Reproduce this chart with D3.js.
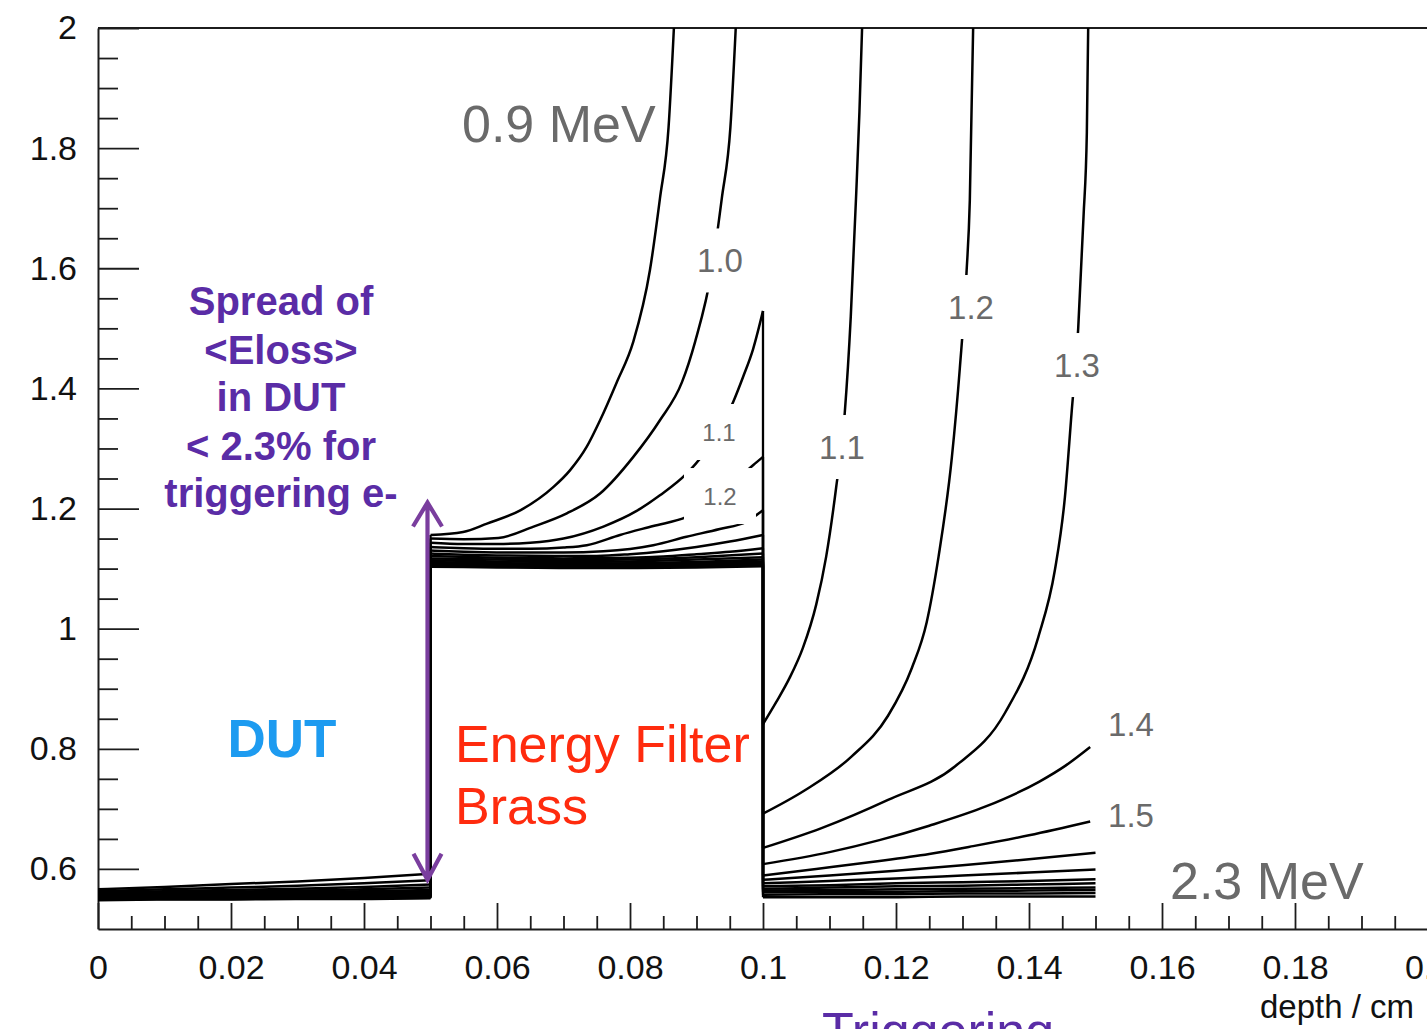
<!DOCTYPE html>
<html><head><meta charset="utf-8">
<script src="https://cdn.jsdelivr.net/npm/d3@7"></script>
<style>body{margin:0;background:#fff}svg{display:block}</style>
</head><body>
<svg id="chart" width="1427" height="1029"></svg>
<script>
// ---------------- data ----------------
const energies = ["0.9","1.0","1.1","1.2","1.3","1.4","1.5","1.6","1.7","1.8","1.9","2.0","2.1","2.2","2.3"];
const xTickValues = [0,0.02,0.04,0.06,0.08,0.1,0.12,0.14,0.16,0.18,0.2];
const xTickLabels = ["0","0.02","0.04","0.06","0.08","0.1","0.12","0.14","0.16","0.18","0.2"];
const yTickValues = [0.6,0.8,1.0,1.2,1.4,1.6,1.8,2.0];
const yTickLabels = ["0.6","0.8","1","1.2","1.4","1.6","1.8","2"];

// [depth (cm), value] points per beam energy (MeV)
const curve_0_9 = [[0,0.566],[0.01,0.570],[0.02,0.575],[0.03,0.579],[0.04,0.585],[0.05,0.592],
  [0.05,1.156],[0.0549,1.161],[0.0585,1.175],[0.0635,1.197],[0.0685,1.236],[0.071,1.264],[0.0735,1.303],[0.0755,1.347],[0.078,1.41],[0.0805,1.478],[0.083,1.597],[0.0845,1.716],[0.0858,1.835],[0.0866,2.0]];
const curve_1_0 = [[0,0.563],[0.01,0.566],[0.02,0.569],[0.03,0.572],[0.04,0.576],[0.05,0.581],
  [0.05,1.150],[0.055,1.149],[0.0602,1.151],[0.0655,1.170],[0.0705,1.192],[0.0755,1.225],[0.0805,1.286],[0.0845,1.347],[0.0878,1.41],[0.0898,1.478],[0.0923,1.597],[0.0938,1.716],[0.0951,1.835],[0.0959,2.0]];
const curve_1_1 = [[0,0.561],[0.01,0.563],[0.02,0.565],[0.03,0.567],[0.04,0.570],[0.05,0.574],
  [0.05,1.143],[0.055,1.141],[0.06,1.141],[0.065,1.143],[0.07,1.150],[0.076,1.170],[0.081,1.196],[0.0845,1.222],[0.0885,1.258],[0.091,1.29],[0.0955,1.377],[0.097,1.419],[0.0985,1.465],[0.1,1.529],
  [0.1,0.841],[0.102,0.878],[0.104,0.918],[0.106,0.968],[0.108,1.04],[0.1095,1.12],[0.111,1.235],[0.1123,1.36],[0.1132,1.52],[0.114,1.72],[0.1145,1.86],[0.1149,2.0]];
const curve_1_2 = [[0,0.559],[0.01,0.561],[0.02,0.562],[0.03,0.564],[0.04,0.566],[0.05,0.569],
  [0.05,1.136],[0.055,1.134],[0.06,1.133],[0.065,1.133],[0.07,1.135],[0.0735,1.139],[0.0785,1.156],[0.0835,1.171],[0.0885,1.186],[0.0935,1.222],[0.0985,1.272],[0.1,1.286],
  [0.1,0.692],[0.1063,0.731],[0.1133,0.787],[0.1188,0.855],[0.1224,0.935],[0.1246,1.010],[0.1264,1.120],[0.1284,1.285],[0.1296,1.434],[0.1306,1.592],[0.1311,1.713],[0.1316,2.0]];
const curve_1_3 = [[0,0.558],[0.01,0.559],[0.02,0.560],[0.03,0.562],[0.04,0.563],[0.05,0.565],
  [0.05,1.130],[0.055,1.128],[0.06,1.127],[0.07,1.127],[0.076,1.129],[0.0835,1.139],[0.0885,1.153],[0.0935,1.166],[0.0975,1.178],[0.099,1.189],[0.1,1.197],
  [0.1,0.635],[0.1088,0.668],[0.1188,0.715],[0.1289,0.771],[0.1364,0.860],[0.1414,0.986],[0.1439,1.098],[0.1454,1.219],[0.1464,1.359],[0.1474,1.50],[0.1482,1.686],[0.1487,1.827],[0.1489,2.0]];
const curve_1_4 = [[0,0.557],[0.01,0.558],[0.02,0.559],[0.03,0.560],[0.04,0.561],[0.05,0.562],
  [0.05,1.125],[0.055,1.123],[0.06,1.122],[0.07,1.121],[0.075,1.121],[0.08,1.124],[0.085,1.129],[0.09,1.136],[0.095,1.145],[0.1,1.156],
  [0.1,0.608],[0.11,0.628],[0.1175,0.648],[0.125,0.672],[0.1335,0.704],[0.1415,0.745],[0.1455,0.772],[0.1492,0.803]];
const curve_1_5 = [[0,0.556],[0.01,0.557],[0.02,0.557],[0.03,0.558],[0.04,0.559],[0.05,0.560],
  [0.05,1.121],[0.06,1.118],[0.07,1.117],[0.08,1.118],[0.085,1.120],[0.09,1.124],[0.095,1.128],[0.1,1.134],
  [0.1,0.589],[0.108,0.600],[0.1166,0.612],[0.125,0.625],[0.1316,0.638],[0.14,0.656],[0.1492,0.679]];
const curve_1_6 = [[0,0.555],[0.01,0.556],[0.02,0.556],[0.03,0.557],[0.04,0.557],[0.05,0.558],
  [0.05,1.117],[0.06,1.115],[0.07,1.114],[0.08,1.115],[0.09,1.119],[0.1,1.125],
  [0.1,0.582],[0.11,0.589],[0.12,0.597],[0.13,0.606],[0.14,0.616],[0.15,0.627]];
const curve_1_7 = [[0,0.554],[0.01,0.555],[0.02,0.555],[0.03,0.556],[0.04,0.556],[0.05,0.557],
  [0.05,1.114],[0.06,1.112],[0.07,1.111],[0.08,1.112],[0.09,1.115],[0.1,1.119],
  [0.1,0.576],[0.11,0.580],[0.12,0.584],[0.13,0.589],[0.14,0.594],[0.15,0.599]];
const curve_1_8 = [[0,0.553],[0.01,0.554],[0.02,0.554],[0.03,0.555],[0.04,0.555],[0.05,0.556],
  [0.05,1.111],[0.06,1.109],[0.07,1.108],[0.08,1.109],[0.09,1.111],[0.1,1.115],
  [0.1,0.571],[0.11,0.573],[0.12,0.576],[0.13,0.578],[0.14,0.580],[0.15,0.583]];
const curve_1_9 = [[0,0.552],[0.01,0.553],[0.02,0.553],[0.03,0.554],[0.04,0.554],[0.05,0.555],
  [0.05,1.109],[0.06,1.107],[0.07,1.106],[0.08,1.107],[0.09,1.109],[0.1,1.112],
  [0.1,0.567],[0.11,0.569],[0.12,0.571],[0.13,0.572],[0.14,0.574],[0.15,0.576]];
const curve_2_0 = [[0,0.551],[0.01,0.552],[0.02,0.552],[0.03,0.553],[0.04,0.553],[0.05,0.554],
  [0.05,1.107],[0.06,1.105],[0.07,1.104],[0.08,1.105],[0.09,1.107],[0.1,1.110],
  [0.1,0.564],[0.11,0.565],[0.12,0.566],[0.13,0.567],[0.14,0.568],[0.15,0.569]];
const curve_2_1 = [[0,0.550],[0.01,0.551],[0.02,0.551],[0.03,0.552],[0.04,0.552],[0.05,0.553],
  [0.05,1.105],[0.06,1.104],[0.07,1.103],[0.08,1.103],[0.09,1.105],[0.1,1.108],
  [0.1,0.561],[0.11,0.562],[0.12,0.562],[0.13,0.563],[0.14,0.564],[0.15,0.565]];
const curve_2_2 = [[0,0.549],[0.01,0.550],[0.02,0.550],[0.03,0.551],[0.04,0.551],[0.05,0.552],
  [0.05,1.104],[0.06,1.103],[0.07,1.102],[0.08,1.102],[0.09,1.104],[0.1,1.106],
  [0.1,0.557],[0.11,0.558],[0.12,0.558],[0.13,0.559],[0.14,0.559],[0.15,0.560]];
const curve_2_3 = [[0,0.548],[0.01,0.549],[0.02,0.549],[0.03,0.550],[0.04,0.550],[0.05,0.551],
  [0.05,1.103],[0.06,1.102],[0.07,1.101],[0.08,1.101],[0.09,1.102],[0.1,1.104],
  [0.1,0.553],[0.11,0.553],[0.12,0.553],[0.13,0.554],[0.14,0.554],[0.15,0.554]];
const curves = [curve_0_9,curve_1_0,curve_1_1,curve_1_2,curve_1_3,curve_1_4,curve_1_5,curve_1_6,curve_1_7,curve_1_8,curve_1_9,curve_2_0,curve_2_1,curve_2_2,curve_2_3];

// contour labels: text and anchor (depth, value)
const contourLabelText  = ["1.0","1.1","1.2","1.1","1.2","1.3","1.4","1.5"];
const contourLabelDepth = [0.09353,0.09338,0.09353,0.11188,0.13128,0.14722,0.15534,0.15534];
const contourLabelValue = [1.6130,1.3274,1.2208,1.3024,1.5355,1.4389,0.8413,0.6898];
const contourLabelSmall = [false,true,true,false,false,false,false,false];
const contourLabelBoxed = [true,true,true,true,true,true,false,false];

// ---------------- layout ----------------
const W = 1427, H = 1029;
const L = 98, R = 1428, T = 28, B = 929;
const svg = d3.select("#chart");
const x = d3.scaleLinear().domain([0,0.2]).range([L,R]);
const y = d3.scaleLinear().domain([0.5,2]).range([B,T]);
const FONT = "'Liberation Sans', Arial, Helvetica, sans-serif";

svg.append("rect").attr("width",W).attr("height",H).attr("fill","#fff");
svg.append("defs").append("clipPath").attr("id","plotclip")
  .append("rect").attr("x",L).attr("y",T-1).attr("width",R-L).attr("height",B-T+1);

// axes
const axColor = "#1c1c1c";
const minorX = d3.range(0,0.2001,0.005).filter(v => Math.abs(v/0.02 - Math.round(v/0.02)) > 1e-6);
const minorY = d3.range(0.55,2.0001,0.05).filter(v => Math.abs(v/0.2 - Math.round(v/0.2)) > 1e-6);

const gxMinor = svg.append("g").attr("transform",`translate(0,${B})`)
  .call(d3.axisBottom(x).tickValues(minorX).tickSize(-13).tickFormat(""));
const gx = svg.append("g").attr("transform",`translate(0,${B})`)
  .call(d3.axisBottom(x).tickValues(xTickValues).tickSizeInner(-26).tickSizeOuter(0).tickPadding(26)
    .tickFormat((d,i)=>xTickLabels[i]));
const gyMinor = svg.append("g").attr("transform",`translate(${L},0)`)
  .call(d3.axisLeft(y).tickValues(minorY).tickSize(-20).tickFormat(""));
const gy = svg.append("g").attr("transform",`translate(${L},0)`)
  .call(d3.axisLeft(y).tickValues(yTickValues).tickSizeInner(-41).tickSizeOuter(0).tickPadding(21)
    .tickFormat((d,i)=>yTickLabels[i]));
[gxMinor,gx,gyMinor,gy].forEach(g=>{
  g.selectAll("line").attr("stroke",axColor).attr("stroke-width",1.8);
  g.selectAll("path.domain").attr("stroke",axColor).attr("stroke-width",2);
  g.selectAll("text").attr("font-family",FONT).attr("font-size",34).attr("fill","#111");
});
gxMinor.select("path.domain").remove();
gyMinor.select("path.domain").remove();
// top frame line
svg.append("line").attr("x1",L).attr("x2",R).attr("y1",T).attr("y2",T)
  .attr("stroke",axColor).attr("stroke-width",2);

// curves
const plot = svg.append("g").attr("clip-path","url(#plotclip)");
const smooth = d3.line().x(d=>x(d[0])).y(d=>y(d[1])).curve(d3.curveMonotoneX);
curves.forEach(pts=>{
  let seg=[pts[0]];
  const segs=[], joins=[];
  for(let i=1;i<pts.length;i++){
    if(pts[i][0]===pts[i-1][0]){ segs.push(seg); joins.push([pts[i-1],pts[i]]); seg=[pts[i]]; }
    else seg.push(pts[i]);
  }
  segs.push(seg);
  segs.forEach(s=>plot.append("path").attr("d",smooth(s)).attr("fill","none")
    .attr("stroke","#000").attr("stroke-width",2.5).attr("stroke-linejoin","round"));
  joins.forEach(j=>plot.append("line").attr("x1",x(j[0][0])).attr("x2",x(j[1][0]))
    .attr("y1",y(j[0][1])).attr("y2",y(j[1][1])).attr("stroke","#000").attr("stroke-width",2.3));
});

// contour labels with white boxes
contourLabelText.forEach((t,i)=>{
  const cx = x(contourLabelDepth[i]), cy = y(contourLabelValue[i]);
  const fs = contourLabelSmall[i] ? 24 : 33;
  if(contourLabelBoxed[i]){
    const bw = 72, bh = contourLabelSmall[i] ? 56 : 64;
    svg.append("rect").attr("x",cx-bw/2).attr("y",cy-bh/2).attr("width",bw).attr("height",bh).attr("fill","#fff");
  }
  svg.append("text").attr("x",cx).attr("y",cy+0.358*fs).attr("text-anchor","middle")
    .attr("font-family",FONT).attr("font-size",fs).attr("fill","#6a6a6a").text(t);
});

// annotations
function txt(s,px,py,opt){
  return svg.append("text").attr("x",px).attr("y",py).attr("font-family",FONT)
    .attr("font-size",opt.size).attr("fill",opt.fill).attr("text-anchor",opt.anchor||"start")
    .attr("font-weight",opt.weight||"normal").text(s);
}
txt("0.9 MeV",462,142,{size:52,fill:"#6a6a6a"});
txt("2.3 MeV",1170,899,{size:52,fill:"#6a6a6a"});
const purple = "#5a2ca6";
const spreadLines = ["Spread of","<Eloss>","in DUT","< 2.3% for","triggering e-"];
const spreadBase = [315,364,411,460,507];
spreadLines.forEach((s,i)=>txt(s,281,spreadBase[i],{size:40,fill:purple,weight:"bold",anchor:"middle"}));
txt("DUT",282,757,{size:53,fill:"#1d9bf0",weight:"bold",anchor:"middle"});
txt("Energy Filter",455,762,{size:52,fill:"#ff2b0e"});
txt("Brass",455,824,{size:52,fill:"#ff2b0e"});
txt("Triggering",822,1049,{size:52,fill:purple});
txt("depth / cm",1414,1018,{size:33,fill:"#111",anchor:"end"});

// double-headed arrow (spread indicator)
const ax = x(0.05)-3, aTop = y(1.21), aBot = y(0.582);
svg.append("path")
  .attr("d",`M${ax},${aTop} L${ax},${aBot} M${ax-14.5},${aTop+24} L${ax},${aTop} L${ax+14.5},${aTop+24} M${ax-14},${aBot-26} L${ax},${aBot} L${ax+14},${aBot-26}`)
  .attr("fill","none").attr("stroke","#7a3e9e").attr("stroke-width",4.2).attr("stroke-linejoin","miter");
</script>
</body></html>
